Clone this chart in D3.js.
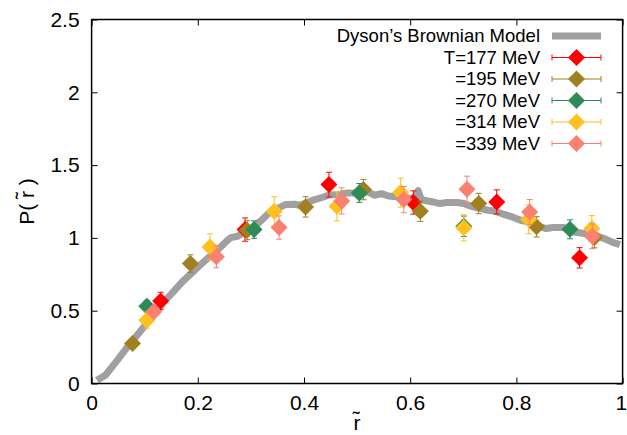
<!DOCTYPE html>
<html>
<head>
<meta charset="utf-8">
<script src="https://cdn.jsdelivr.net/npm/d3@7"></script>
<style>
  body { margin: 0; background: #fff; }
  svg text { font-family: "Liberation Sans", Arial, sans-serif; fill: #000; }
</style>
</head>
<body>
<div id="chart"></div>
<script>
// Dyson's Brownian model curve
var dysonX = [0.010, 0.026, 0.046, 0.065, 0.078, 0.101, 0.120, 0.136, 0.152, 0.172, 0.191, 0.204, 0.220, 0.240,
  0.256, 0.262, 0.275, 0.288, 0.304, 0.320, 0.333, 0.349, 0.365, 0.382, 0.391, 0.401, 0.417, 0.437, 0.449,
  0.462, 0.482, 0.501, 0.520, 0.533, 0.546, 0.559, 0.579, 0.604, 0.609, 0.615, 0.621, 0.643, 0.656, 0.669,
  0.688, 0.701, 0.714, 0.727, 0.747, 0.760, 0.772, 0.792, 0.811, 0.824, 0.837, 0.856, 0.869, 0.889, 0.908,
  0.928, 0.947, 0.966, 0.979, 0.995];
var dysonY = [0.023, 0.057, 0.149, 0.240, 0.297, 0.400, 0.487, 0.561, 0.622, 0.703, 0.767, 0.812, 0.865, 0.927,
  0.984, 1.002, 1.011, 1.041, 1.071, 1.121, 1.167, 1.201, 1.229, 1.231, 1.224, 1.236, 1.259, 1.281, 1.297,
  1.297, 1.309, 1.309, 1.316, 1.293, 1.304, 1.288, 1.281, 1.270, 1.285, 1.325, 1.262, 1.247, 1.236, 1.243,
  1.243, 1.236, 1.217, 1.206, 1.190, 1.183, 1.167, 1.144, 1.117, 1.110, 1.087, 1.064, 1.071, 1.071, 1.041,
  1.030, 1.018, 0.995, 0.973, 0.954];

// lattice data, one set per temperature
var t177X = [0.130, 0.289, 0.447, 0.606, 0.763, 0.919];
var t177Y = [0.567, 1.057, 1.366, 1.243, 1.247, 0.863];
var t177E = [0.060, 0.080, 0.085, 0.080, 0.083, 0.070];

var t195X = [0.077, 0.186, 0.293, 0.403, 0.512, 0.619, 0.729, 0.838, 0.947];
var t195Y = [0.275, 0.824, 1.053, 1.213, 1.332, 1.183, 1.236, 1.076, 1.002];
var t195E = [0.030, 0.060, 0.065, 0.070, 0.070, 0.070, 0.070, 0.070, 0.070];

var t270X = [0.104, 0.306, 0.504, 0.701, 0.901];
var t270Y = [0.531, 1.057, 1.309, 1.080, 1.059];
var t270E = [0.040, 0.060, 0.065, 0.070, 0.065];

var t314X = [0.104, 0.223, 0.344, 0.462, 0.582, 0.701, 0.823, 0.942];
var t314Y = [0.435, 0.938, 1.183, 1.217, 1.311, 1.069, 1.128, 1.064];
var t314E = [0.055, 0.090, 0.100, 0.100, 0.100, 0.090, 0.100, 0.090];

var t339X = [0.117, 0.235, 0.353, 0.471, 0.588, 0.707, 0.825, 0.943];
var t339Y = [0.492, 0.870, 1.071, 1.254, 1.263, 1.334, 1.178, 1.011];
var t339E = [0.040, 0.075, 0.080, 0.090, 0.090, 0.090, 0.085, 0.085];

var legendLabels = ["Dyson\u2019s Brownian Model", "T=177 MeV", "=195 MeV", "=270 MeV", "=314 MeV", "=339 MeV"];
var seriesColors = ["#ff0000", "#a08020", "#2e8b57", "#ffc020", "#fa8072"];
var xTicks = [0, 0.2, 0.4, 0.6, 0.8, 1];
var yTicks = [0, 0.5, 1, 1.5, 2, 2.5];

var W = 627, H = 435;
var margin = {left: 91.6, right: 4.4, top: 19.5, bottom: 51.5};
var iw = W - margin.left - margin.right,
	ih = H - margin.top - margin.bottom;
var markerR = 8.5, tickLen = 6;

var x = d3.scaleLinear().domain([0, 1]).range([0, iw]);
var y = d3.scaleLinear().domain([0, 2.5]).range([ih, 0]);

var svg = d3.select("#chart").append("svg")
	.attr("width", W)
	.attr("height", H);
var g = svg.append("g").attr("transform", "translate(" + margin.left + "," + margin.top + ")");

// axes - inward ticks, mirrored on top/right
var fmt = function(d) { return d3.format("")(d); };
var xAxisG = g.append("g").attr("transform", "translate(0," + ih + ")")
	.call(d3.axisBottom(x).tickValues(xTicks).tickSize(-tickLen).tickPadding(12).tickFormat(fmt));
g.append("g")
	.call(d3.axisTop(x).tickValues(xTicks).tickSize(-tickLen).tickFormat(""));
g.append("g")
	.call(d3.axisLeft(y).tickValues(yTicks).tickSize(-tickLen).tickPadding(12).tickFormat(fmt));
g.append("g").attr("transform", "translate(" + iw + ",0)")
	.call(d3.axisRight(y).tickValues(yTicks).tickSize(-tickLen).tickFormat(""));
g.selectAll(".domain").remove();
g.selectAll(".tick line").attr("stroke", "#000").attr("stroke-width", 1);
g.selectAll(".tick text").style("font-size", "21px").attr("fill", "#000");
// keep the last x label inside the window
xAxisG.selectAll(".tick text").filter(function(d) { return d == 1; })
	.attr("text-anchor", "end").attr("dx", "0.2em");

// dyson curve
var line = d3.line()
	.x(function(d) { return x(d[0]); })
	.y(function(d) { return y(d[1]); });
g.append("path")
	.datum(d3.zip(dysonX, dysonY))
	.attr("fill", "none")
	.attr("stroke", "#a0a0a0")
	.attr("stroke-width", 7)
	.attr("stroke-linejoin", "round")
	.attr("d", line);

var diamond = function(cx, cy) {
	return "M" + cx + "," + (cy - markerR) + "L" + (cx + markerR) + "," + cy +
		"L" + cx + "," + (cy + markerR) + "L" + (cx - markerR) + "," + cy + "Z";
};

var allSeries = [
	{x: t177X, y: t177Y, e: t177E},
	{x: t195X, y: t195Y, e: t195E},
	{x: t270X, y: t270Y, e: t270E},
	{x: t314X, y: t314Y, e: t314E},
	{x: t339X, y: t339Y, e: t339E}
];

allSeries.forEach(function(s, si) {
	var col = seriesColors[si];
	var pts = s.x.map(function(v, i) { return {x: v, y: s.y[i], e: s.e[i]}; });
	var sg = g.append("g");
	var eb = sg.selectAll("g.err").data(pts).enter().append("g").attr("class", "err")
		.attr("stroke", col).attr("stroke-width", 1);
	eb.append("line")
		.attr("x1", function(d) { return x(d.x); }).attr("x2", function(d) { return x(d.x); })
		.attr("y1", function(d) { return y(d.y - d.e); }).attr("y2", function(d) { return y(d.y + d.e); });
	eb.append("line")
		.attr("x1", function(d) { return x(d.x) - 3; }).attr("x2", function(d) { return x(d.x) + 3; })
		.attr("y1", function(d) { return y(d.y + d.e); }).attr("y2", function(d) { return y(d.y + d.e); });
	eb.append("line")
		.attr("x1", function(d) { return x(d.x) - 3; }).attr("x2", function(d) { return x(d.x) + 3; })
		.attr("y1", function(d) { return y(d.y - d.e); }).attr("y2", function(d) { return y(d.y - d.e); });
	sg.selectAll("path.pt").data(pts).enter().append("path").attr("class", "pt")
		.attr("fill", col)
		.attr("d", function(d) { return diamond(x(d.x), y(d.y)); });
});

// frame
g.append("rect")
	.attr("width", iw).attr("height", ih)
	.attr("fill", "none").attr("stroke", "#000").attr("stroke-width", 1.5);

// legend
var legX = 540, legY0 = 36, legDy = 21.5;
var leg = svg.append("g");
legendLabels.forEach(function(lab, i) {
	var ly = legY0 + i * legDy;
	leg.append("text")
		.attr("x", legX).attr("y", ly)
		.attr("dy", "0.35em")
		.attr("text-anchor", "end")
		.style("font-size", "18.5px")
		.text(lab);
	if (i == 0) {
		leg.append("line")
			.attr("x1", 552).attr("x2", 601).attr("y1", ly).attr("y2", ly)
			.attr("stroke", "#a0a0a0").attr("stroke-width", 7);
	} else {
		var col = seriesColors[i - 1];
		leg.append("line").attr("x1", 552).attr("x2", 601).attr("y1", ly).attr("y2", ly)
			.attr("stroke", col).attr("stroke-width", 1);
		leg.append("line").attr("x1", 552).attr("x2", 552).attr("y1", ly - 3).attr("y2", ly + 3)
			.attr("stroke", col).attr("stroke-width", 1);
		leg.append("line").attr("x1", 601).attr("x2", 601).attr("y1", ly - 3).attr("y2", ly + 3)
			.attr("stroke", col).attr("stroke-width", 1);
		leg.append("path").attr("fill", col).attr("d", diamond(576.5, ly));
	}
});

// axis titles
svg.append("text")
	.attr("x", margin.left + iw / 2).attr("y", 430)
	.attr("text-anchor", "middle")
	.style("font-size", "21px")
	.text("r\u0303");
svg.append("text")
	.attr("transform", "translate(34," + (margin.top + ih / 2) + ") rotate(-90)")
	.attr("text-anchor", "middle")
	.style("font-size", "21px")
	.text("P( r\u0303 )");
</script>
</body>
</html>
